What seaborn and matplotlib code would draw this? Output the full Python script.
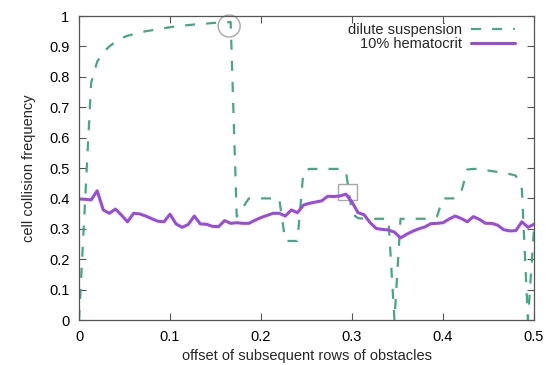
import numpy as np
import pandas as pd
import matplotlib
matplotlib.use("Agg")
import matplotlib.pyplot as plt
from matplotlib.patches import Ellipse, Rectangle
import seaborn as sns

# sampling grid (offset of subsequent rows of obstacles), 76 samples from 0 to 0.5
offset = np.linspace(0.0, 0.5, 76)

dilute_suspension = [
    0.0, 0.39, 0.78, 0.85, 0.88, 0.90, 0.915, 0.927, 0.935, 0.94,
    0.945, 0.95, 0.953, 0.956, 0.96, 0.963, 0.966, 0.968, 0.97, 0.972,
    0.974, 0.975, 0.977, 0.978, 0.979, 0.98, 0.34, 0.37, 0.40, 0.40,
    0.40, 0.40, 0.40, 0.40, 0.26, 0.26, 0.26, 0.49, 0.497, 0.497,
    0.497, 0.497, 0.497, 0.497, 0.49, 0.35, 0.335, 0.333, 0.333, 0.333,
    0.333, 0.333, 0.0, 0.333, 0.333, 0.333, 0.333, 0.333, 0.333, 0.34,
    0.40, 0.40, 0.40, 0.42, 0.495, 0.497, 0.497, 0.493, 0.49, 0.487,
    0.483, 0.48, 0.475, 0.43, 0.0, 0.30,
]

hematocrit_10 = [
    0.398, 0.397, 0.395, 0.425, 0.362, 0.351, 0.365, 0.345, 0.323, 0.351,
    0.349, 0.342, 0.333, 0.325, 0.323, 0.348, 0.316, 0.305, 0.314, 0.342,
    0.316, 0.315, 0.308, 0.307, 0.327, 0.318, 0.320, 0.318, 0.318, 0.328,
    0.337, 0.344, 0.351, 0.351, 0.342, 0.362, 0.353, 0.378, 0.384, 0.388,
    0.392, 0.407, 0.406, 0.408, 0.414, 0.388, 0.353, 0.346, 0.320, 0.301,
    0.298, 0.296, 0.289, 0.270, 0.282, 0.292, 0.300, 0.306, 0.317, 0.318,
    0.320, 0.332, 0.342, 0.334, 0.323, 0.340, 0.331, 0.318, 0.318, 0.312,
    0.297, 0.293, 0.294, 0.323, 0.305, 0.315,
]

series_labels = ["dilute suspension", "10% hematocrit"]
x_ticks = [0, 0.1, 0.2, 0.3, 0.4, 0.5]
x_tick_labels = ["0", "0.1", "0.2", "0.3", "0.4", "0.5"]
y_ticks = [0, 0.1, 0.2, 0.3, 0.4, 0.5, 0.6, 0.7, 0.8, 0.9, 1.0]
y_tick_labels = ["0", "0.1", "0.2", "0.3", "0.4", "0.5", "0.6", "0.7", "0.8", "0.9", "1"]

df_dilute = pd.DataFrame({"offset": offset, "freq": dilute_suspension})
df_hema = pd.DataFrame({"offset": offset, "freq": hematocrit_10})

sns.set_style("ticks")
plt.rcParams["font.family"] = ["Liberation Sans", "DejaVu Sans"]
plt.rcParams["font.size"] = 10.5

fig = plt.figure(figsize=(5.46, 3.65), dpi=100)
ax = fig.add_axes([79 / 546, 1 - 320 / 365, (534 - 79) / 546, (320 - 16) / 365])

green = "#45a881"
purple = "#9b4bdc"

sns.lineplot(data=df_dilute, x="offset", y="freq", ax=ax, color=green,
             linewidth=1.6, label=series_labels[0], estimator=None, sort=False)
sns.lineplot(data=df_hema, x="offset", y="freq", ax=ax, color=purple,
             linewidth=2.2, label=series_labels[1], estimator=None, sort=False)
ax.lines[0].set_dashes((4.5, 5))

# annotation markers (grey circle and square)
ax.add_patch(Ellipse((0.165, 0.967), 22 / 910, 22 / 304, fill=False,
                     edgecolor="#a8a8a8", linewidth=1.0, clip_on=False))
ax.add_patch(Rectangle((0.2846, 0.395), 0.021, 0.053, fill=False,
                       edgecolor="#a8a8a8", linewidth=1.0))

ax.set_xlim(0, 0.5)
ax.set_ylim(0, 1)
ax.set_xticks(x_ticks)
ax.set_xticklabels(x_tick_labels)
ax.set_yticks(y_ticks)
ax.set_yticklabels(y_tick_labels)
ax.tick_params(direction="in", top=True, right=True, length=5, width=0.8,
               color="#555555", labelsize=10.5, labelcolor="black", pad=7)
for s in ax.spines.values():
    s.set_visible(True)
    s.set_color("#555555")
    s.set_linewidth(0.9)

ax.set_xlabel("offset of subsequent rows of obstacles", fontsize=10.5, labelpad=4)
ax.set_ylabel("cell collision frequency", fontsize=10.5, labelpad=9)

handles, labels = ax.get_legend_handles_labels()
leg = ax.legend(handles, labels, loc="upper right", bbox_to_anchor=(0.958, 0.978),
                frameon=False, markerfirst=False, handlelength=3.0,
                handletextpad=0.6, labelspacing=0.05, borderpad=0, borderaxespad=0,
                fontsize=10.5)

fig.savefig("out.png", dpi=100)
